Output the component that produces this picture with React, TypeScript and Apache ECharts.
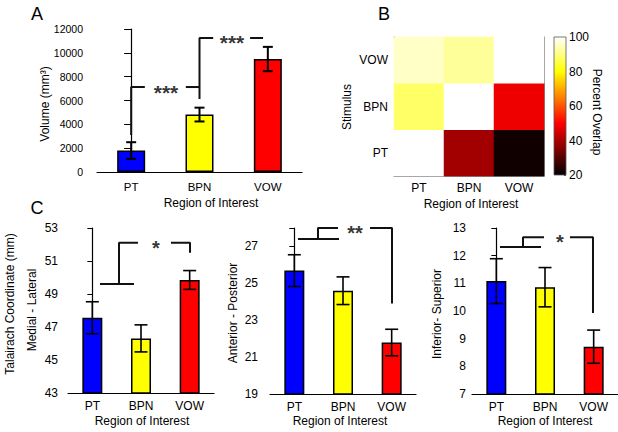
import React, { useEffect, useRef } from 'react';
import * as echarts from 'echarts';

const FONT = 'Liberation Sans, Arial, Helvetica, sans-serif';

// ---- data ----
const regions = ['PT', 'BPN', 'VOW'];
const barColors = ['#0000ff', '#ffff00', '#ff0000'];

// Panel A: volume (mm^3)
const volumeMean = [1800, 4820, 9480];
const volumeErr = [700, 580, 1020];
const volumeTicks = { min: 0, max: 12000, interval: 2000 };

// Panel B: percent overlap, rows = stimulus, columns = region
const stimuli = ['PT', 'BPN', 'VOW'];
const overlapPT = [100, 39, 22];
const overlapBPN = [88, 100, 48];
const overlapVOW = [95.5, 92, 100];
const colorbarRange = { min: 20, max: 100, interval: 20 };

// Panel C: Talairach coordinates (mm)
const mlMean = [47.56, 46.31, 49.85];
const mlErr = [0.97, 0.82, 0.57];
const apMean = [25.69, 24.6, 21.79];
const apErr = [0.86, 0.75, 0.72];
const isMean = [11.08, 10.86, 8.71];
const isErr = [0.81, 0.71, 0.6];

// significance brackets, in data units (x = category index)
const bracketsA = [
  [[0, 3105], [0, 7130], [0.2, 7130]],
  [[0.8, 7130], [1.0, 7130]],
  [[1.0, 6125], [1.0, 11245], [1.2, 11245]],
  [[1.74, 11245], [1.93, 11245]],
];
const starsA = [
  { x: 0.51, y: 7130, text: '***' },
  { x: 1.476, y: 11245, text: '***' },
];
const bracketsML = [
  [[0.157, 49.6], [0.856, 49.6]],
  [[0.548, 49.6], [0.548, 52.1], [0.938, 52.1]],
  [[1.616, 52.1], [2.007, 52.1], [2.007, 51.5]],
];
const starsML = [{ x: 1.308, y: 52.1, text: '*' }];
const bracketsAP = [
  [[0.075, 27.4], [0.918, 27.4]],
  [[0.486, 27.4], [0.486, 28.0], [0.897, 28.0]],
  [[1.555, 28.0], [2.007, 28.0], [2.007, 23.9]],
];
const starsAP = [{ x: 1.246, y: 28.0, text: '**' }];
const bracketsIS = [
  [[0.075, 12.31], [0.918, 12.31]],
  [[0.548, 12.31], [0.548, 12.67], [0.979, 12.67]],
  [[1.514, 12.67], [1.986, 12.67], [1.986, 9.93]],
];
const starsIS = [{ x: 1.308, y: 12.67, text: '*' }];

// MATLAB "hot" colormap, evenly spaced stops
const hot = ['#000000', '#550000', '#aa0000', '#ff0000', '#ff5500', '#ffaa00', '#ffff00', '#ffff80', '#ffffff'];

const txt = (text: string, x: number, y: number, fontSize: number, rotation = 0) => ({
  type: 'text',
  x,
  y,
  rotation,
  silent: true,
  style: { text, fontSize, fontFamily: FONT, fill: '#000', align: 'center', verticalAlign: 'middle' },
});

function barSeries(xAxisIndex: number, yAxisIndex: number, means: number[], barWidth: number) {
  return {
    type: 'bar',
    xAxisIndex,
    yAxisIndex,
    barWidth,
    silent: true,
    z: 2,
    data: means.map((v, i) => ({
      value: v,
      itemStyle: { color: barColors[i], borderColor: '#000', borderWidth: 1.5 },
    })),
  };
}

function errorBarSeries(xAxisIndex: number, yAxisIndex: number, means: number[], errs: number[], capW: number, lw: number) {
  return {
    type: 'custom',
    xAxisIndex,
    yAxisIndex,
    z: 5,
    silent: true,
    clip: false,
    encode: { x: 0, y: [1, 2] },
    data: means.map((m, i) => [regions[i], m - errs[i], m + errs[i]]),
    renderItem: (params: any, api: any) => {
      const i = api.value(0);
      const lo = api.coord([i, api.value(1)]);
      const hi = api.coord([i, api.value(2)]);
      const h = capW / 2;
      const st = { stroke: '#000', lineWidth: lw };
      return {
        type: 'group',
        children: [
          { type: 'line', shape: { x1: lo[0], y1: lo[1], x2: hi[0], y2: hi[1] }, style: st },
          { type: 'line', shape: { x1: lo[0] - h, y1: lo[1], x2: lo[0] + h, y2: lo[1] }, style: st },
          { type: 'line', shape: { x1: hi[0] - h, y1: hi[1], x2: hi[0] + h, y2: hi[1] }, style: st },
        ],
      };
    },
  };
}

function bracketSeries(xAxisIndex: number, yAxisIndex: number, paths: number[][][]) {
  return paths.map((p) => ({
    type: 'line',
    xAxisIndex,
    yAxisIndex,
    data: p,
    symbol: 'none',
    silent: true,
    clip: false,
    z: 4,
    lineStyle: { color: '#111', width: 2 },
  }));
}

function starSeries(xAxisIndex: number, yAxisIndex: number, stars: any[], fontSize: number) {
  return {
    type: 'scatter',
    xAxisIndex,
    yAxisIndex,
    symbolSize: 1,
    silent: true,
    clip: false,
    z: 6,
    itemStyle: { color: 'rgba(0,0,0,0)' },
    data: stars.map((s) => ({ value: [s.x, s.y], label: { formatter: s.text } })),
    label: {
      show: true,
      position: 'inside',
      color: '#000',
      fontSize,
      fontWeight: 'bold',
      fontFamily: FONT,
      offset: [0, 5],
    },
  };
}

const catAxis = (gridIndex: number, margin: number, fontSize: number) => ({
  type: 'category',
  gridIndex,
  data: regions,
  axisLine: { show: true, lineStyle: { color: '#000', width: 1.2 } },
  axisTick: { show: false },
  axisLabel: { color: '#000', fontSize, fontFamily: FONT, margin },
  splitLine: { show: false },
});
const hiddenValX = (gridIndex: number) => ({ type: 'value', gridIndex, min: -0.5, max: 2.5, show: false });
const valAxis = (gridIndex: number, min: number, max: number, interval: number, margin: number, fontSize: number, tick: number, hideMax = false) => ({
  type: 'value',
  gridIndex,
  min,
  max,
  interval,
  axisLine: { show: true, lineStyle: { color: '#000', width: 1.2 } },
  axisTick: { show: true, length: tick, lineStyle: { color: '#000' } },
  axisLabel: {
    color: '#000',
    fontSize,
    fontFamily: FONT,
    margin,
    formatter: (v: number) => (hideMax && v === max ? '' : String(v)),
  },
  splitLine: { show: false },
});

export default function App() {
  const ref = useRef<HTMLDivElement>(null);
  useEffect(() => {
    if (!ref.current) return;
    const chart = echarts.init(ref.current, null, { renderer: 'svg' });

    const heatData: any[] = [];
    [overlapPT, overlapBPN, overlapVOW].forEach((row, yi) => {
      row.forEach((v, xi) => heatData.push([xi, yi, v]));
    });

    const grayLine = { show: true, lineStyle: { color: '#8a8a8a', width: 1 } };
    const inTick = { show: true, inside: true, length: 3, alignWithLabel: true, lineStyle: { color: '#8a8a8a' } };

    const series: any[] = [
      // A
      barSeries(0, 0, volumeMean, 28),
      errorBarSeries(0, 0, volumeMean, volumeErr, 10, 2),
      ...bracketSeries(1, 0, bracketsA),
      starSeries(1, 0, starsA, 21),
      // C1
      barSeries(5, 4, mlMean, 20),
      errorBarSeries(5, 4, mlMean, mlErr, 13, 1.6),
      ...bracketSeries(6, 4, bracketsML),
      starSeries(6, 4, starsML, 20),
      // C2
      barSeries(7, 5, apMean, 20),
      errorBarSeries(7, 5, apMean, apErr, 13, 1.6),
      ...bracketSeries(8, 5, bracketsAP),
      starSeries(8, 5, starsAP, 20),
      // C3
      barSeries(9, 6, isMean, 20),
      errorBarSeries(9, 6, isMean, isErr, 13, 1.6),
      ...bracketSeries(10, 6, bracketsIS),
      starSeries(10, 6, starsIS, 20),
      // colorbar
      {
        type: 'custom',
        xAxisIndex: 4,
        yAxisIndex: 3,
        silent: true,
        encode: { x: 0, y: [1, 2] },
        data: [['cb', colorbarRange.min, colorbarRange.max]],
        renderItem: (params: any, api: any) => {
          const b = api.coord([api.value(0), api.value(1)]);
          const t = api.coord([api.value(0), api.value(2)]);
          const w = api.size([1, 0])[0];
          return {
            type: 'rect',
            shape: { x: b[0] - w / 2, y: t[1], width: w, height: b[1] - t[1] },
            style: {
              fill: new echarts.graphic.LinearGradient(0, 1, 0, 0, hot.map((c, i) => ({ offset: i / (hot.length - 1), color: c }))),
              stroke: '#555',
              lineWidth: 0.8,
            },
          };
        },
      },
    ];
    const heatIndex = series.length;
    series.push({
      type: 'heatmap',
      xAxisIndex: 2,
      yAxisIndex: 1,
      data: heatData,
      silent: true,
      itemStyle: { borderWidth: 0 },
    });

    const option: any = {
      animation: false,
      backgroundColor: '#fff',
      textStyle: { fontFamily: FONT },
      grid: [
        { left: 97, top: 29, width: 205, height: 143 },
        { left: 394, top: 37, width: 150, height: 139 },
        { left: 554, top: 37, width: 12, height: 138 },
        { left: 68, top: 228, width: 146, height: 165 },
        { left: 270, top: 228, width: 146, height: 166 },
        { left: 472, top: 228, width: 146, height: 166 },
      ],
      xAxis: [
        catAxis(0, 9, 11.5),
        hiddenValX(0),
        {
          type: 'category',
          gridIndex: 1,
          data: regions,
          axisLine: grayLine,
          axisTick: inTick,
          axisLabel: { color: '#000', fontSize: 12, fontFamily: FONT, margin: 6 },
        },
        {
          type: 'category',
          gridIndex: 1,
          position: 'top',
          data: regions,
          axisLine: grayLine,
          axisTick: inTick,
          axisLabel: { show: false },
        },
        { type: 'category', gridIndex: 2, data: ['cb'], show: false },
        catAxis(3, 7, 12),
        hiddenValX(3),
        catAxis(4, 7, 12),
        hiddenValX(4),
        catAxis(5, 7, 12),
        hiddenValX(5),
      ],
      yAxis: [
        valAxis(0, volumeTicks.min, volumeTicks.max, volumeTicks.interval, 14, 10.5, 7),
        {
          type: 'category',
          gridIndex: 1,
          data: stimuli,
          axisLine: grayLine,
          axisTick: inTick,
          axisLabel: { color: '#000', fontSize: 12, fontFamily: FONT, margin: 6 },
        },
        {
          type: 'category',
          gridIndex: 1,
          position: 'right',
          data: stimuli,
          axisLine: grayLine,
          axisTick: inTick,
          axisLabel: { show: false },
        },
        {
          type: 'value',
          gridIndex: 2,
          position: 'right',
          min: colorbarRange.min,
          max: colorbarRange.max,
          interval: colorbarRange.interval,
          axisLine: { show: false },
          axisTick: { show: true, inside: true, length: 2, lineStyle: { color: '#555' } },
          axisLabel: { color: '#000', fontSize: 12, fontFamily: FONT, margin: 3 },
          splitLine: { show: false },
        },
        valAxis(3, 43, 53, 2, 10, 12, 5),
        valAxis(4, 19, 28, 2, 12, 12, 5, true),
        valAxis(5, 7, 13, 1, 6, 12, 5),
      ],
      visualMap: {
        type: 'continuous',
        show: false,
        min: colorbarRange.min,
        max: colorbarRange.max,
        seriesIndex: heatIndex,
        dimension: 2,
        inRange: { color: hot },
      },
      graphic: [
        txt('A', 37, 14, 18),
        txt('B', 384, 14, 18),
        txt('C', 37, 208, 18),
        txt('Volume (mm³)', 45, 104, 12, Math.PI / 2),
        txt('Region of Interest', 211, 203, 12),
        txt('Stimulus', 347, 107, 12, Math.PI / 2),
        txt('Region of Interest', 471, 204, 12),
        txt('Percent Overlap', 597, 112, 12, -Math.PI / 2),
        txt('Talairach Coordinate (mm)', 10, 304, 12, Math.PI / 2),
        txt('Medial - Lateral', 32, 310, 12, Math.PI / 2),
        txt('Anterior - Posterior', 233, 313, 12, Math.PI / 2),
        txt('Inferior- Superior', 437, 314, 12, Math.PI / 2),
        txt('Region of Interest', 142, 421, 12),
        txt('Region of Interest', 340, 421, 12),
        txt('Region of Interest', 545, 421, 12),
      ],
      series,
    };
    chart.setOption(option);
    return () => chart.dispose();
  }, []);
  return (
    <div
      ref={ref}
      style={{ position: 'absolute', left: 0, top: 0, width: 618, height: 432, background: '#fff' }}
    />
  );
}
